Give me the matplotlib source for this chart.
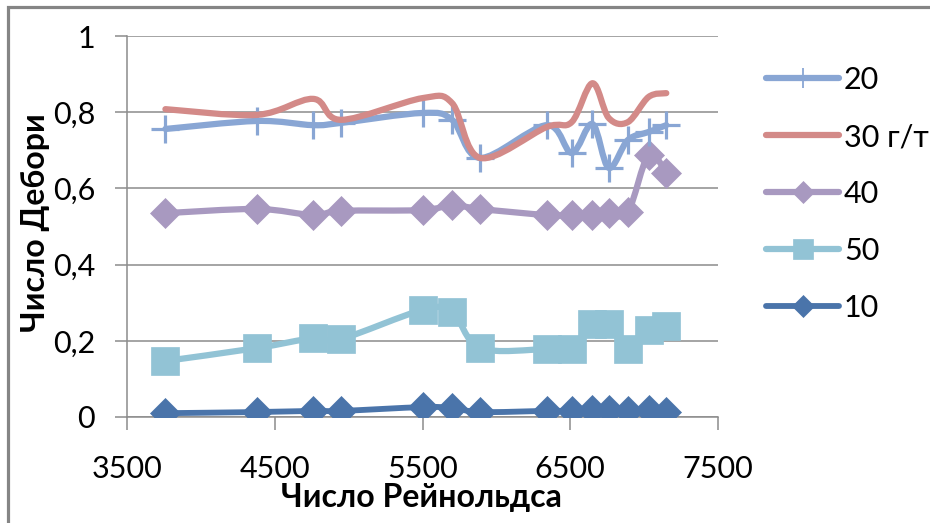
import matplotlib
matplotlib.use("Agg")
import matplotlib.pyplot as plt
from matplotlib.path import Path
from matplotlib.patches import PathPatch, Rectangle
from matplotlib.lines import Line2D
import numpy as np

plt.rcParams['font.family'] = ['Lato', 'DejaVu Sans']

# данные: число Рейнольдса и число Деборы для разных концентраций
re = [3760, 4380, 4760, 4950, 5500, 5700, 5890, 6340, 6510, 6650, 6760, 6890, 7030, 7150]
de_20 = [0.756, 0.777, 0.766, 0.772, 0.798, 0.780, 0.680, 0.766, 0.693, 0.769, 0.654, 0.727, 0.748, 0.766]
de_30 = [0.808, 0.793, 0.835, 0.780, 0.837, 0.824, 0.680, 0.761, 0.774, 0.876, 0.785, 0.774, 0.840, 0.850]
de_40 = [0.535, 0.546, 0.530, 0.541, 0.543, 0.556, 0.546, 0.530, 0.530, 0.530, 0.535, 0.538, 0.688, 0.640]
de_50 = [0.147, 0.181, 0.207, 0.205, 0.281, 0.276, 0.181, 0.178, 0.178, 0.244, 0.244, 0.178, 0.228, 0.239]
de_10 = [0.010, 0.013, 0.016, 0.016, 0.026, 0.024, 0.013, 0.016, 0.016, 0.018, 0.018, 0.016, 0.018, 0.013]
labels = ['20', '30 г/т', '40', '50', '10']


def smooth_path(x, y, t=1/6):
    # сглаженная линия как в Excel (кривые Безье)
    p = np.column_stack([x, y]).astype(float)
    n = len(p)
    verts = [p[0]]
    codes = [Path.MOVETO]
    for i in range(n - 1):
        p0 = p[i - 1] if i > 0 else p[i]
        p3 = p[i + 2] if i + 2 < n else p[i + 1]
        c1 = p[i] + (p[i + 1] - p0) * t
        c2 = p[i + 1] - (p3 - p[i]) * t
        verts += [c1, c2, p[i + 1]]
        codes += [Path.CURVE4] * 3
    return Path(verts, codes)


fig = plt.figure(figsize=(9.3, 5.23), dpi=100)
ax = fig.add_axes([127/930, 1 - 417/523, (718 - 127)/930, (417 - 36)/523])

series = [
    (de_20, '#89a6d4', '+', 20, 4.5),
    (de_30, '#d38a88', 'none', 0, 4.5),
    (de_40, '#a899c0', 'D', 15, 4.5),
    (de_50, '#92c3d5', 's', 20, 4.5),
    (de_10, '#4a74aa', 'D', 15, 4.2),
]
order = [4, 3, 2, 0, 1]
handles = []
for k, (vals, col, mk, ms, lw) in enumerate(series):
    z = 3 + order.index(k)
    ax.add_patch(PathPatch(smooth_path(re, vals), facecolor='none', edgecolor=col,
                           lw=lw, capstyle='round', joinstyle='round', zorder=z))
    if mk != 'none':
        ax.plot(re, vals, ls='none', marker=mk, ms=ms, color=col, mec=col,
                mew=2.3 if mk == '+' else 0.5, zorder=z + 0.5)
    handles.append(Line2D([], [], color=col, lw=lw, solid_capstyle='round',
                          marker=mk, ms=ms * 0.75, mec=col, mew=1.3 if mk == '+' else 0.5))

ax.set_xlim(3500, 7500)
ax.set_ylim(0, 1)
ax.set_xticks([3500, 4500, 5500, 6500, 7500])
ax.set_yticks([0, 0.2, 0.4, 0.6, 0.8, 1])
ax.set_yticklabels(['0', '0,2', '0,4', '0,6', '0,8', '1'])
ax.grid(axis='y', color='#8c8c8c', lw=1.1)
ax.set_axisbelow(True)
for s in ['top', 'right']:
    ax.spines[s].set_visible(False)
for s in ['left', 'bottom']:
    ax.spines[s].set_color('#8c8c8c')
    ax.spines[s].set_linewidth(1.1)
ax.tick_params(axis='both', direction='out', length=9, width=1.1, color='#8c8c8c',
               labelsize=22, labelcolor='black')
ax.tick_params(axis='y', pad=14)
ax.tick_params(axis='x', pad=18)

fig.text(35/930, 1 - 223/523, 'Число Дебори', rotation=90, ha='center', va='center',
         fontsize=23, fontweight='bold')
fig.text(421/930, 1 - 497/523, 'Число Рейнольдса', ha='center', va='center',
         fontsize=23, fontweight='bold')

fig.legend(handles, labels, loc='upper left', bbox_to_anchor=(766/930, 1 - 66/523),
           bbox_transform=fig.transFigure, frameon=False, fontsize=22,
           handlelength=2.4, handletextpad=0.15, labelspacing=0.95,
           borderpad=0, borderaxespad=0)

fig.patches.append(Rectangle((8/930, -0.1), 1.2, 1.1 - 7/523, transform=fig.transFigure,
                             fill=False, edgecolor='#858585', lw=2.3))

fig.savefig('out.png', dpi=100)
